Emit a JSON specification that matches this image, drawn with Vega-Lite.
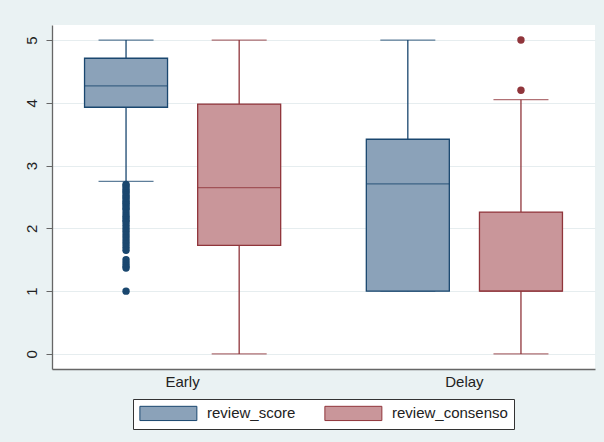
{
  "$schema": "https://vega.github.io/schema/vega-lite/v6.json",
  "width": 543,
  "height": 344,
  "autosize": {"type": "none"},
  "padding": {"left": 52, "top": 25, "right": 9, "bottom": 73},
  "background": "#eaf2f3",
  "config": {
    "view": {"fill": "white", "stroke": null},
    "font": "Liberation Sans"
  },
  "datasets": {
    "stats": [
      {"group": "Early", "series": "review_score", "lower": 2.75, "q1": 3.93, "median": 4.27, "q3": 4.71, "upper": 5},
      {"group": "Early", "series": "review_consenso", "lower": 0, "q1": 1.73, "median": 2.65, "q3": 3.98, "upper": 5},
      {"group": "Delay", "series": "review_score", "lower": 1, "q1": 1, "median": 2.71, "q3": 3.42, "upper": 5},
      {"group": "Delay", "series": "review_consenso", "lower": 0, "q1": 1, "median": 1, "q3": 2.26, "upper": 4.05}
    ],
    "outliers": [
      {"group": "Early", "series": "review_score", "value": 2.7},
      {"group": "Early", "series": "review_score", "value": 2.67},
      {"group": "Early", "series": "review_score", "value": 2.63},
      {"group": "Early", "series": "review_score", "value": 2.6},
      {"group": "Early", "series": "review_score", "value": 2.57},
      {"group": "Early", "series": "review_score", "value": 2.53},
      {"group": "Early", "series": "review_score", "value": 2.5},
      {"group": "Early", "series": "review_score", "value": 2.47},
      {"group": "Early", "series": "review_score", "value": 2.43},
      {"group": "Early", "series": "review_score", "value": 2.4},
      {"group": "Early", "series": "review_score", "value": 2.37},
      {"group": "Early", "series": "review_score", "value": 2.33},
      {"group": "Early", "series": "review_score", "value": 2.3},
      {"group": "Early", "series": "review_score", "value": 2.25},
      {"group": "Early", "series": "review_score", "value": 2.2},
      {"group": "Early", "series": "review_score", "value": 2.17},
      {"group": "Early", "series": "review_score", "value": 2.13},
      {"group": "Early", "series": "review_score", "value": 2.1},
      {"group": "Early", "series": "review_score", "value": 2.05},
      {"group": "Early", "series": "review_score", "value": 2.0},
      {"group": "Early", "series": "review_score", "value": 1.95},
      {"group": "Early", "series": "review_score", "value": 1.9},
      {"group": "Early", "series": "review_score", "value": 1.85},
      {"group": "Early", "series": "review_score", "value": 1.8},
      {"group": "Early", "series": "review_score", "value": 1.75},
      {"group": "Early", "series": "review_score", "value": 1.7},
      {"group": "Early", "series": "review_score", "value": 1.65},
      {"group": "Early", "series": "review_score", "value": 1.5},
      {"group": "Early", "series": "review_score", "value": 1.45},
      {"group": "Early", "series": "review_score", "value": 1.4},
      {"group": "Early", "series": "review_score", "value": 1.37},
      {"group": "Early", "series": "review_score", "value": 1.0},
      {"group": "Delay", "series": "review_consenso", "value": 4.2},
      {"group": "Delay", "series": "review_consenso", "value": 5.0}
    ]
  },
  "encoding": {
    "x": {
      "field": "group",
      "type": "nominal",
      "sort": ["Early", "Delay"],
      "scale": {"paddingInner": 0.197, "paddingOuter": 0.062},
      "axis": {
        "title": null,
        "labelAngle": 0,
        "ticks": false,
        "labelPadding": 5,
        "labelFontSize": 15,
        "labelColor": "#222",
        "domainColor": "#666",
        "domainWidth": 1.3,
        "grid": false
      }
    },
    "xOffset": {
      "field": "series",
      "type": "nominal",
      "sort": ["review_score", "review_consenso"],
      "scale": {"paddingInner": 0, "paddingOuter": 0}
    }
  },
  "layer": [
    {
      "data": {"name": "stats"},
      "mark": {"type": "rule", "strokeWidth": 1.3},
      "encoding": {
        "y": {
          "field": "lower",
          "type": "quantitative",
          "scale": {"domain": [-0.24, 5.24], "nice": false, "zero": false},
          "axis": {
            "title": null,
            "values": [0, 1, 2, 3, 4, 5],
            "format": "d",
            "labelAngle": -90,
            "labelFontSize": 15,
            "labelColor": "#222",
            "labelPadding": 7,
            "tickSize": 6,
            "tickColor": "#666",
            "domainColor": "#666",
            "domainWidth": 1.3,
            "gridColor": "#e6edef",
            "gridWidth": 1
          }
        },
        "y2": {"field": "upper"},
        "color": {
          "field": "series",
          "type": "nominal",
          "scale": {"domain": ["review_consenso", "review_score"], "range": ["#90353b", "#1a476f"]},
          "legend": null
        }
      }
    },
    {
      "data": {"name": "stats"},
      "mark": {"type": "tick", "size": 55, "thickness": 1.3},
      "encoding": {
        "y": {"field": "upper", "type": "quantitative"},
        "color": {"field": "series", "type": "nominal", "legend": null}
      }
    },
    {
      "data": {"name": "stats"},
      "mark": {"type": "tick", "size": 55, "thickness": 1.3},
      "encoding": {
        "y": {"field": "lower", "type": "quantitative"},
        "color": {"field": "series", "type": "nominal", "legend": null}
      }
    },
    {
      "data": {"name": "stats"},
      "mark": {"type": "bar", "width": 83, "opacity": 1},
      "encoding": {
        "y": {"field": "q1", "type": "quantitative"},
        "y2": {"field": "q3"},
        "fill": {
          "field": "series",
          "type": "nominal",
          "scale": {"domain": ["review_score", "review_consenso"], "range": ["#8ba2b9", "#c9969a"]},
          "legend": {
            "title": null,
            "orient": "none",
            "direction": "horizontal",
            "columns": 2,
            "legendX": 81,
            "legendY": 374,
            "padding": 6,
            "fillColor": "white",
            "strokeColor": "#333",
            "symbolType": "M-1,-1H7V1H-1Z",
            "symbolSize": 203,
            "symbolStrokeWidth": 1,
            "symbolOpacity": 1,
            "labelFontSize": 15,
            "labelColor": "#222",
            "labelOffset": 52,
            "columnPadding": 26,
            "encode": {
              "symbols": {
                "update": {
                  "stroke": {"signal": "datum.value === 'review_score' ? '#1a476f' : '#90353b'"}
                }
              }
            }
          }
        }
      }
    },
    {
      "data": {"name": "stats"},
      "mark": {"type": "bar", "width": 83, "filled": false, "strokeWidth": 1.3, "opacity": 1},
      "encoding": {
        "y": {"field": "q1", "type": "quantitative"},
        "y2": {"field": "q3"},
        "color": {"field": "series", "type": "nominal", "legend": null}
      }
    },
    {
      "data": {"name": "stats"},
      "mark": {"type": "tick", "size": 83, "thickness": 1.3},
      "encoding": {
        "y": {"field": "median", "type": "quantitative"},
        "color": {"field": "series", "type": "nominal", "legend": null}
      }
    },
    {
      "data": {"name": "outliers"},
      "mark": {"type": "point", "filled": true, "size": 55, "opacity": 1},
      "encoding": {
        "y": {"field": "value", "type": "quantitative"},
        "color": {"field": "series", "type": "nominal", "legend": null}
      }
    }
  ]
}
